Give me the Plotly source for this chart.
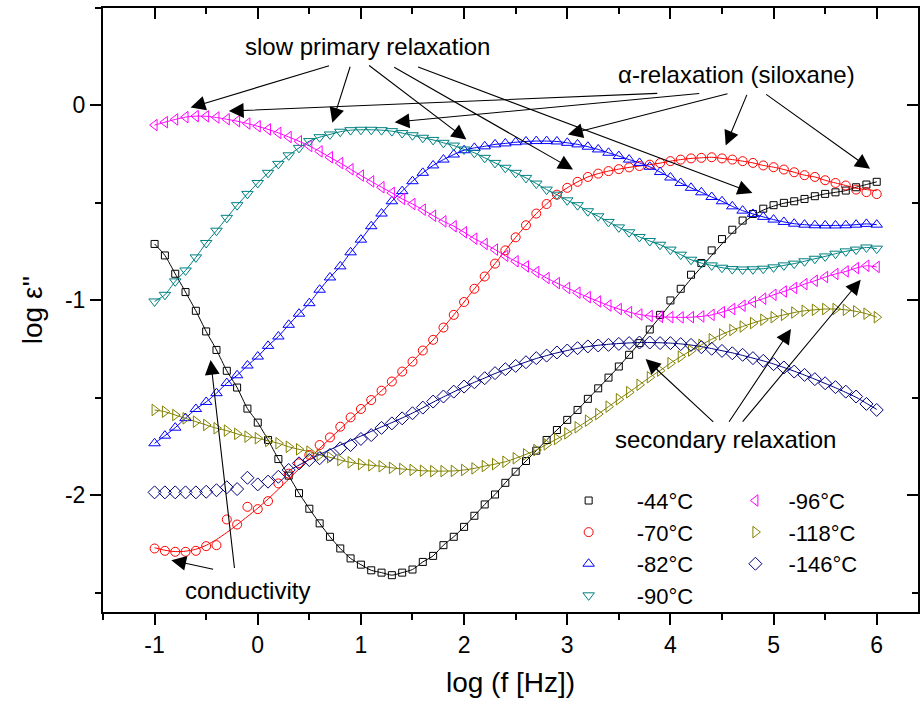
import plotly.graph_objects as go

# ---------------- data ----------------
LOGF = [-1.0, -0.9, -0.8, -0.7, -0.6, -0.5, -0.4, -0.3, -0.2, -0.1,
        0.0, 0.1, 0.2, 0.3, 0.4, 0.5, 0.6, 0.7, 0.8, 0.9,
        1.0, 1.1, 1.2, 1.3, 1.4, 1.5, 1.6, 1.7, 1.8, 1.9,
        2.0, 2.1, 2.2, 2.3, 2.4, 2.5, 2.6, 2.7, 2.8, 2.9,
        3.0, 3.1, 3.2, 3.3, 3.4, 3.5, 3.6, 3.7, 3.8, 3.9,
        4.0, 4.1, 4.2, 4.3, 4.4, 4.5, 4.6, 4.7, 4.8, 4.9,
        5.0, 5.1, 5.2, 5.3, 5.4, 5.5, 5.6, 5.7, 5.8, 5.9,
        6.0]

T44 = [-0.711, -0.770, -0.864, -0.958, -1.054, -1.160, -1.255, -1.362, -1.448, -1.556,
       -1.628, -1.717, -1.815, -1.900, -1.990, -2.070, -2.145, -2.214, -2.274, -2.325,
       -2.357, -2.386, -2.398, -2.411, -2.398, -2.382, -2.343, -2.312, -2.257, -2.214,
       -2.163, -2.106, -2.048, -1.997, -1.937, -1.880, -1.825, -1.772, -1.717, -1.666,
       -1.614, -1.563, -1.506, -1.452, -1.397, -1.340, -1.280, -1.220, -1.150, -1.075,
       -1.001, -0.941, -0.869, -0.809, -0.744, -0.686, -0.638, -0.591, -0.557, -0.530,
       -0.512, -0.500, -0.492, -0.480, -0.466, -0.454, -0.446, -0.437, -0.420, -0.406,
       -0.392]
T44_FIT = [-0.711, -0.770, -0.864, -0.958, -1.054, -1.160, -1.255, -1.362, -1.448, -1.556,
           -1.628, -1.717, -1.815, -1.900, -1.990, -2.070, -2.145, -2.214, -2.274, -2.325,
           -2.357, -2.386, -2.398, -2.411, -2.398, -2.382, -2.343, -2.312, -2.257, -2.214,
           -2.163, -2.106, -2.048, -1.997, -1.937, -1.880, -1.825, -1.772, -1.717, -1.666,
           -1.614, -1.563, -1.506, -1.452, -1.397, -1.340, -1.280, -1.220, -1.150, -1.085,
           -1.020, -0.955, -0.890, -0.830, -0.770, -0.710, -0.655, -0.605, -0.565, -0.537,
           -0.517, -0.502, -0.492, -0.480, -0.466, -0.454, -0.446, -0.437, -0.420, -0.406,
           -0.392]

T70 = [-2.274, -2.286, -2.291, -2.291, -2.286, -2.262, -2.257, -2.125, -2.151, -2.060,
       -2.072, -2.031, -1.940, -1.890, -1.837, -1.794, -1.743, -1.704, -1.649, -1.601,
       -1.558, -1.512, -1.464, -1.417, -1.366, -1.315, -1.258, -1.203, -1.140, -1.075,
       -1.009, -0.941, -0.878, -0.812, -0.744, -0.677, -0.615, -0.555, -0.506, -0.458,
       -0.423, -0.392, -0.367, -0.350, -0.337, -0.327, -0.318, -0.311, -0.304, -0.296,
       -0.286, -0.278, -0.272, -0.269, -0.266, -0.272, -0.278, -0.286, -0.295, -0.308,
       -0.317, -0.329, -0.343, -0.358, -0.367, -0.384, -0.398, -0.411, -0.432, -0.445,
       -0.455]
T70_FIT = [-2.270, -2.283, -2.290, -2.288, -2.278, -2.258, -2.228, -2.192, -2.152, -2.110,
           -2.067, -2.020, -1.970, -1.918, -1.865, -1.812, -1.760, -1.710, -1.660, -1.610,
           -1.560, -1.512, -1.464, -1.417, -1.366, -1.315, -1.258, -1.203, -1.140, -1.075,
           -1.009, -0.941, -0.878, -0.812, -0.744, -0.677, -0.615, -0.555, -0.506, -0.458,
           -0.423, -0.392, -0.367, -0.350, -0.337, -0.327, -0.318, -0.311, -0.304, -0.296,
           -0.286, -0.278, -0.272, -0.269, -0.266, -0.272, -0.278, -0.286, -0.295, -0.308,
           -0.317, -0.329, -0.343, -0.358, -0.367, -0.384, -0.398, -0.411, -0.425, -0.432,
           -0.438]

T82 = [-1.734, -1.695, -1.654, -1.605, -1.558, -1.522, -1.477, -1.425, -1.385, -1.335,
       -1.289, -1.234, -1.186, -1.126, -1.069, -1.015, -0.946, -0.883, -0.826, -0.754,
       -0.689, -0.620, -0.555, -0.492, -0.440, -0.389, -0.346, -0.308, -0.278, -0.252,
       -0.230, -0.218, -0.210, -0.200, -0.195, -0.189, -0.185, -0.183, -0.183, -0.185,
       -0.192, -0.200, -0.212, -0.226, -0.243, -0.260, -0.278, -0.295, -0.315, -0.342,
       -0.370, -0.398, -0.423, -0.446, -0.470, -0.492, -0.518, -0.540, -0.557, -0.572,
       -0.586, -0.598, -0.607, -0.612, -0.615, -0.616, -0.616, -0.615, -0.612, -0.608,
       -0.612]

T90 = [-1.006, -0.972, -0.903, -0.847, -0.780, -0.706, -0.643, -0.577, -0.512, -0.454,
       -0.398, -0.346, -0.300, -0.256, -0.218, -0.183, -0.163, -0.149, -0.135, -0.127,
       -0.125, -0.125, -0.127, -0.132, -0.142, -0.153, -0.166, -0.177, -0.192, -0.206,
       -0.226, -0.243, -0.269, -0.295, -0.320, -0.346, -0.372, -0.401, -0.432, -0.458,
       -0.487, -0.512, -0.543, -0.569, -0.598, -0.626, -0.651, -0.675, -0.696, -0.715,
       -0.740, -0.766, -0.792, -0.809, -0.821, -0.833, -0.840, -0.842, -0.841, -0.838,
       -0.831, -0.821, -0.812, -0.800, -0.787, -0.775, -0.761, -0.749, -0.740, -0.729,
       -0.735]

T96 = [-0.101, -0.086, -0.072, -0.060, -0.055, -0.056, -0.062, -0.071, -0.081, -0.093,
       -0.107, -0.123, -0.141, -0.162, -0.184, -0.208, -0.236, -0.266, -0.296, -0.328,
       -0.360, -0.390, -0.420, -0.449, -0.480, -0.506, -0.535, -0.566, -0.595, -0.620,
       -0.651, -0.684, -0.711, -0.740, -0.772, -0.800, -0.826, -0.855, -0.886, -0.912,
       -0.937, -0.961, -0.984, -1.006, -1.027, -1.045, -1.061, -1.073, -1.081, -1.085,
       -1.087, -1.088, -1.087, -1.083, -1.075, -1.061, -1.045, -1.028, -1.009, -0.992,
       -0.972, -0.955, -0.937, -0.917, -0.900, -0.881, -0.865, -0.852, -0.835, -0.823,
       -0.829]

T118 = [-1.563, -1.572, -1.589, -1.606, -1.623, -1.640, -1.657, -1.669, -1.686, -1.700,
        -1.708, -1.722, -1.734, -1.752, -1.765, -1.777, -1.794, -1.806, -1.820, -1.832,
        -1.841, -1.847, -1.852, -1.860, -1.866, -1.871, -1.875, -1.877, -1.877, -1.876,
        -1.871, -1.863, -1.851, -1.841, -1.829, -1.811, -1.791, -1.769, -1.740, -1.712,
        -1.683, -1.652, -1.618, -1.584, -1.546, -1.508, -1.472, -1.434, -1.395, -1.361,
        -1.323, -1.289, -1.258, -1.229, -1.200, -1.175, -1.153, -1.135, -1.117, -1.100,
        -1.087, -1.075, -1.063, -1.054, -1.049, -1.045, -1.045, -1.049, -1.057, -1.069,
        -1.087]

T146 = [-1.986, -1.986, -1.986, -1.986, -1.986, -1.983, -1.975, -1.960, -1.969, -1.911,
        -1.945, -1.931, -1.906, -1.871, -1.837, -1.820, -1.811, -1.794, -1.760, -1.743,
        -1.712, -1.692, -1.655, -1.632, -1.606, -1.580, -1.551, -1.520, -1.494, -1.469,
        -1.443, -1.421, -1.400, -1.374, -1.354, -1.337, -1.318, -1.297, -1.284, -1.268,
        -1.258, -1.246, -1.237, -1.232, -1.229, -1.224, -1.220, -1.217, -1.217, -1.220,
        -1.220, -1.225, -1.229, -1.241, -1.249, -1.260, -1.272, -1.280, -1.297, -1.311,
        -1.328, -1.345, -1.366, -1.383, -1.405, -1.426, -1.446, -1.469, -1.494, -1.532,
        -1.563]
# fit for -146 C starts at log f = 0.3
T146_FIT_START = 13
T146_FIT = [-1.875, -1.846, -1.818, -1.792, -1.767, -1.743, -1.720,
            -1.697, -1.673, -1.650, -1.628, -1.604, -1.579, -1.552, -1.523, -1.496, -1.470,
            -1.445, -1.421, -1.399, -1.376, -1.356, -1.336, -1.317, -1.299, -1.284, -1.270,
            -1.258, -1.247, -1.238, -1.231, -1.226, -1.222, -1.219, -1.217, -1.217, -1.218,
            -1.220, -1.224, -1.230, -1.238, -1.248, -1.259, -1.270, -1.283, -1.297, -1.311,
            -1.327, -1.345, -1.364, -1.384, -1.405, -1.427, -1.449, -1.473, -1.498, -1.529,
            -1.560]

X_TICKS = [-1, 0, 1, 2, 3, 4, 5, 6]
X_TICKTEXT = ["-1", "0", "1", "2", "3", "4", "5", "6"]
X_MINOR = [-1.5, -0.5, 0.5, 1.5, 2.5, 3.5, 4.5, 5.5]
Y_TICKS = [-2, -1, 0]
Y_TICKTEXT = ["-2", "-1", "0"]
Y_MINOR = [-2.5, -1.5, -0.5, 0.5]

# ---------------- styles ----------------
FONT = "Liberation Sans, Arial, sans-serif"
SERIES = [
    # name, markers, fit x, fit y, color, symbol, size, legend
    ("-44°C", T44, LOGF, T44_FIT, "#000000", "square-open", 7, "legend"),
    ("-70°C", T70, LOGF, T70_FIT, "#ff0000", "circle-open", 9, "legend"),
    ("-82°C", T82, LOGF, T82, "#0000ff", "triangle-up-open", 10, "legend"),
    ("-90°C", T90, LOGF, T90, "#008080", "triangle-down-open", 10, "legend"),
    ("-96°C", T96, LOGF, T96, "#ff00ff", "triangle-left-open", 10, "legend2"),
    ("-118°C", T118, LOGF, T118, "#808000", "triangle-right-open", 10, "legend2"),
    ("-146°C", T146, LOGF[T146_FIT_START:], T146_FIT, "#000080", "diamond-open", 10, "legend2"),
]

fig = go.Figure()
for name, ys, fx, fy, color, symbol, size, leg in SERIES:
    fig.add_trace(go.Scatter(x=fx, y=fy, mode="lines", showlegend=False,
                             line=dict(color=color, width=1, shape="spline", smoothing=0.6),
                             hoverinfo="skip"))
for name, ys, fx, fy, color, symbol, size, leg in SERIES:
    fig.add_trace(go.Scatter(x=LOGF, y=ys, mode="markers", name=name, legend=leg,
                             marker=dict(symbol=symbol, size=size, color=color,
                                         line=dict(color=color, width=1))))
# helpers so the mirrored top/right axes are drawn
fig.add_trace(go.Scatter(x=[], y=[], xaxis="x2", yaxis="y", showlegend=False))
fig.add_trace(go.Scatter(x=[], y=[], xaxis="x", yaxis="y2", showlegend=False))

# ---------------- annotations ----------------
LABELS = [
    ("slow primary relaxation", 1.065, 0.303),
    ("α-relaxation (siloxane)", 4.643, 0.159),
    ("secondary relaxation", 4.536, -1.717),
    ("conductivity", -0.098, -2.488),
]
ARROWS = [  # tail x, tail y, head x, head y
    (0.706, 0.206, -0.651, -0.011),
    (0.900, 0.206, 0.723, -0.089),
    (1.065, 0.211, 2.022, -0.175),
    (1.308, 0.200, 3.056, -0.329),
    (1.540, 0.200, 4.795, -0.449),
    (3.887, 0.062, -0.280, -0.029),
    (4.294, 0.062, 1.327, -0.086),
    (4.568, 0.062, 3.007, -0.149),
    (4.747, 0.062, 4.536, -0.206),
    (4.914, 0.062, 5.935, -0.325),
    (4.430, -1.631, 3.760, -1.302),
    (4.559, -1.631, 5.169, -1.148),
    (4.688, -1.631, 5.845, -0.895),
    (-0.418, -2.382, -0.838, -2.334),
    (-0.224, -2.382, -0.457, -1.306),
]
annotations = []
for text, x, y in LABELS:
    annotations.append(dict(text=text, x=x, y=y, xref="x", yref="y", showarrow=False,
                            font=dict(family=FONT, size=24, color="black"),
                            xanchor="center", yanchor="middle"))
for tx, ty, hx, hy in ARROWS:
    annotations.append(dict(text="", x=hx, y=hy, ax=tx, ay=ty, xref="x", yref="y",
                            axref="x", ayref="y", showarrow=True, arrowhead=2,
                            arrowsize=2.7, arrowwidth=1.1, arrowcolor="black",
                            standoff=0, startstandoff=0))

axis_common = dict(showgrid=False, zeroline=False, showline=True, linecolor="black",
                   linewidth=2, tickcolor="black", tickwidth=2,
                   tickfont=dict(family=FONT, size=23, color="black"))

fig.update_layout(
    width=920, height=710,
    margin=dict(l=103, r=2, t=8, b=98),
    paper_bgcolor="white", plot_bgcolor="white",
    font=dict(family=FONT, color="black"),
    xaxis=dict(range=[-1.5, 6.4], tickmode="array", tickvals=X_TICKS, ticktext=X_TICKTEXT,
               ticks="outside", ticklen=11,
               minor=dict(tickvals=X_MINOR, ticks="outside", ticklen=6, tickwidth=2, tickcolor="black"),
               title=dict(text="log (f [Hz])", font=dict(family=FONT, size=28), standoff=16),
               **axis_common),
    yaxis=dict(range=[-2.6, 0.5], tickmode="array", tickvals=Y_TICKS, ticktext=Y_TICKTEXT,
               ticks="outside", ticklen=11,
               minor=dict(tickvals=Y_MINOR, ticks="outside", ticklen=6, tickwidth=2, tickcolor="black"),
               title=dict(text="log ε''", font=dict(family=FONT, size=28), standoff=14),
               **axis_common),
    xaxis2=dict(range=[-1.5, 6.4], overlaying="x", side="top", anchor="y",
                tickmode="array", tickvals=X_TICKS, showticklabels=False,
                ticks="inside", ticklen=11,
                minor=dict(tickvals=X_MINOR, ticks="inside", ticklen=6, tickwidth=2, tickcolor="black"),
                **axis_common),
    yaxis2=dict(range=[-2.6, 0.5], overlaying="y", side="right", anchor="x",
                tickmode="array", tickvals=Y_TICKS, showticklabels=False,
                ticks="inside", ticklen=11,
                minor=dict(tickvals=Y_MINOR, ticks="inside", ticklen=6, tickwidth=2, tickcolor="black"),
                **axis_common),
    legend=dict(x=0.537, y=0.219, xanchor="left", yanchor="top", bgcolor="rgba(0,0,0,0)",
                font=dict(family=FONT, size=22, color="black"), itemwidth=86,
                tracegroupgap=0),
    legend2=dict(x=0.760, y=0.219, xanchor="left", yanchor="top", bgcolor="rgba(0,0,0,0)",
                 font=dict(family=FONT, size=22, color="black"), itemwidth=56,
                 tracegroupgap=0),
    annotations=annotations,
)

fig.write_html("out.html")
